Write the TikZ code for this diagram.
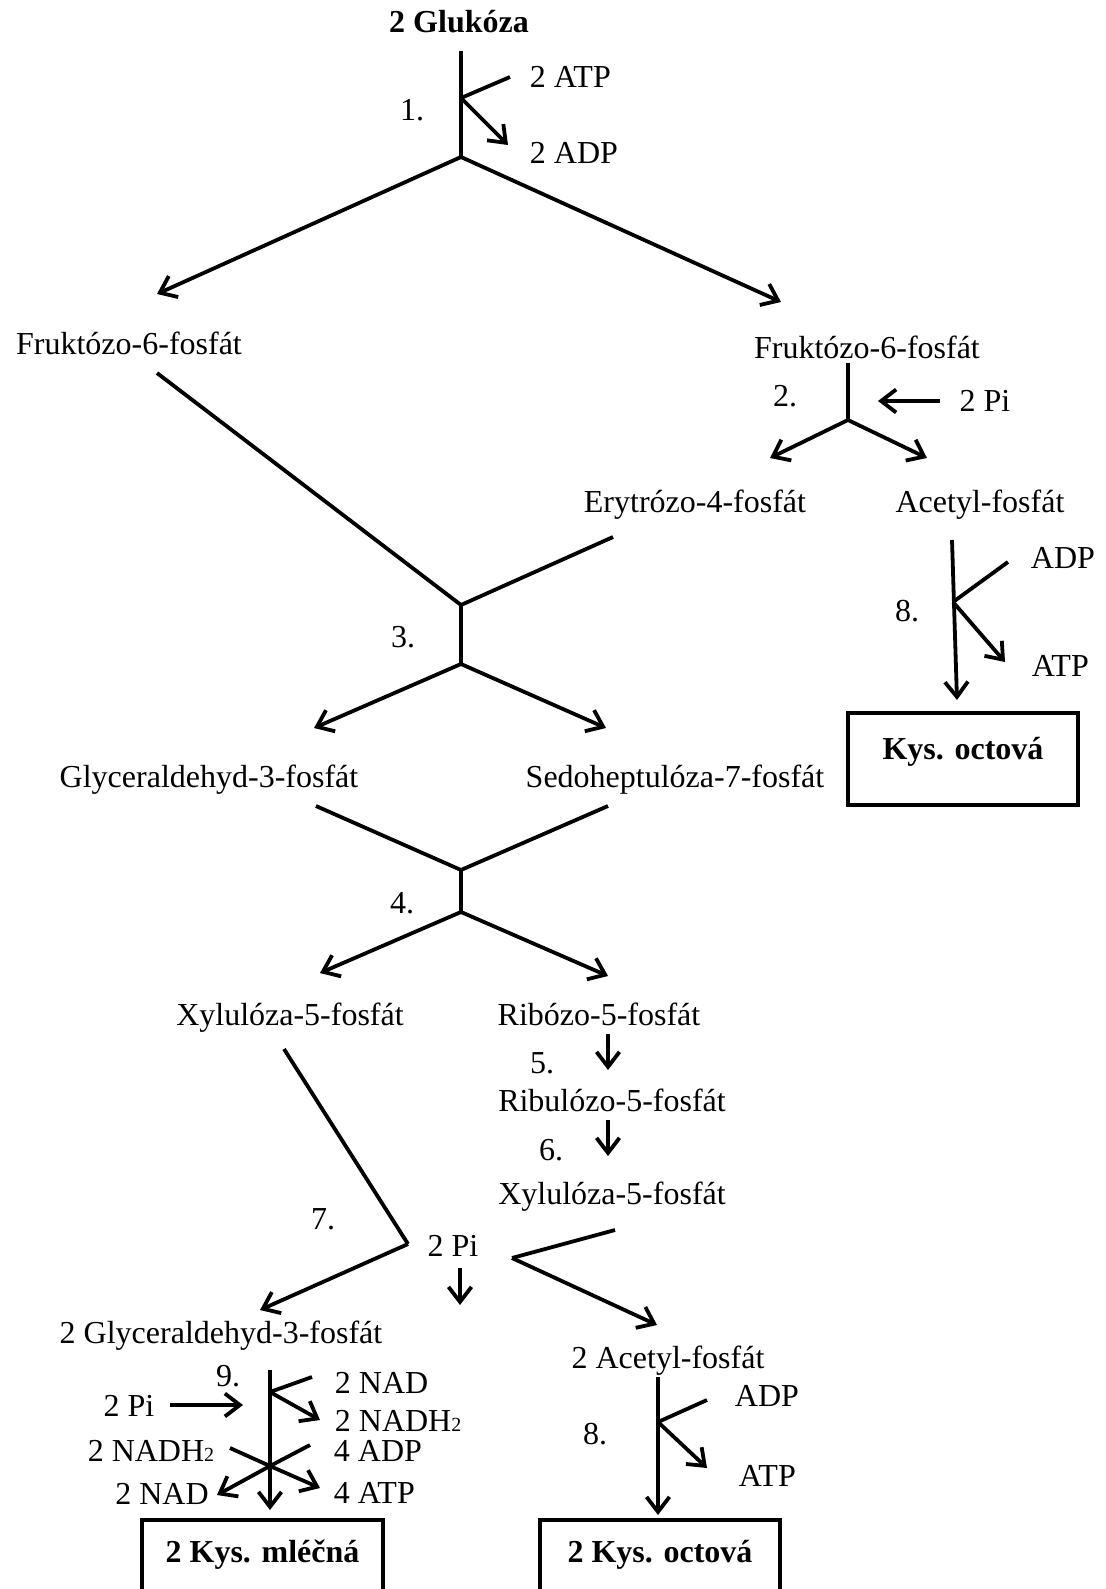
\documentclass[tikz,border=0pt]{standalone}
\usepackage{fontspec}
\setmainfont{Liberation Serif}
\usepackage{tikz}
\usetikzlibrary{arrows.meta}
\tikzset{>={Straight Barb[length=15pt,width=23pt]},
	lbl/.style={inner sep=0pt,font=\fontsize{32}{38}\selectfont,text height=22pt,text depth=0pt},
	blbl/.style={lbl,font=\fontsize{32}{38}\selectfont\bfseries},
	wlbl/.style={lbl,anchor=west},
	endbox/.style={draw,line width=3.8pt,inner sep=0pt,font=\fontsize{32}{38}\selectfont\bfseries,text height=15pt,text depth=15pt}}
\newcommand{\subtwo}{{\fontsize{20}{20}\selectfont 2}}

\begin{document}
\begin{tikzpicture}[x=1pt,y=-1pt,line width=3.8pt]
	\useasboundingbox (0,0) rectangle (1105,1589);
	\node (G) at (459,22) [blbl] {2 Glukóza};
	\node (s1) at (412,110) [lbl] {1.};
	\node (atp1) at (528,77) [wlbl] {2 ATP};
	\node (adp1) at (528,153) [wlbl] {2 ADP};
	\coordinate (g0) at (461,51);
	\coordinate (g1) at (461,98);
	\coordinate (g2) at (461,157);
	\coordinate (a1) at (510,77);
	\coordinate (d1) at (508,145);
	\coordinate (fL) at (157,294);
	\coordinate (fR) at (781,302);
	\draw (g0) -- (g2);
	\draw (a1) -- (g1);
	\draw [->] (g1) -- (d1);
	\draw [->] (g2) -- (fL);
	\draw [->] (g2) -- (fR);
	\node (F1) at (129,343) [lbl] {Fruktózo-6-fosfát};
	\node (F2) at (867,347) [lbl] {Fruktózo-6-fosfát};
	\node (s2) at (785,395) [lbl] {2.};
	\node (pi1) at (985,400) [lbl] {2 Pi};
	\coordinate (f0) at (848,363);
	\coordinate (f1) at (848,420);
	\coordinate (p0) at (940,401);
	\coordinate (p1) at (878,401);
	\coordinate (eE) at (770,458);
	\coordinate (eA) at (927,458);
	\draw (f0) -- (f1);
	\draw [->] (p0) -- (p1);
	\draw [->] (f1) -- (eE);
	\draw [->] (f1) -- (eA);
	\node (E4) at (695,501) [lbl] {Erytrózo-4-fosfát};
	\node (AF) at (980,501) [lbl] {Acetyl-fosfát};
	\node (s8a) at (907,610) [lbl] {8.};
	\node (adp8a) at (1029,557) [wlbl] {ADP};
	\node (atp8a) at (1030,665) [wlbl] {ATP};
	\node (K1) at (963,759) [endbox,minimum width=230pt,minimum height=92pt] {Kys. octová};
	\coordinate (c0) at (952,540);
	\coordinate (c1) at (953,602);
	\coordinate (c2) at (957,700);
	\coordinate (c3) at (1008,562);
	\coordinate (c4) at (1005,662);
	\draw [->] (c0) -- (c2);
	\draw (c3) -- (c1);
	\draw [->] (c1) -- (c4);
	\coordinate (h0) at (157,373);
	\coordinate (h1) at (461,605);
	\coordinate (h2) at (613,537);
	\coordinate (h3) at (461,664);
	\coordinate (hL) at (314,728);
	\coordinate (hR) at (606,728);
	\node (s3) at (403,636) [lbl] {3.};
	\draw (h0) -- (h1) -- (h2);
	\draw (h1) -- (h3);
	\draw [->] (h3) -- (hL);
	\draw [->] (h3) -- (hR);
	\node (GA) at (209,776) [lbl] {Glyceraldehyd-3-fosfát};
	\node (S7) at (675,776) [lbl] {Sedoheptulóza-7-fosfát};
	\node (s4) at (402,902) [lbl] {4.};
	\coordinate (k0) at (316,806);
	\coordinate (k1) at (461,870);
	\coordinate (k2) at (608,806);
	\coordinate (k3) at (461,912);
	\coordinate (kL) at (320,973);
	\coordinate (kR) at (608,976);
	\draw (k0) -- (k1) -- (k2);
	\draw (k1) -- (k3);
	\draw [->] (k3) -- (kL);
	\draw [->] (k3) -- (kR);
	\node (X1) at (290,1014) [lbl] {Xylulóza-5-fosfát};
	\node (R5) at (599,1014) [lbl] {Ribózo-5-fosfát};
	\node (s5) at (542,1062) [lbl] {5.};
	\node (RU) at (612,1100) [lbl] {Ribulózo-5-fosfát};
	\node (s6) at (551,1149) [lbl] {6.};
	\node (X2) at (612,1193) [lbl] {Xylulóza-5-fosfát};
	\coordinate (r0) at (608,1034);
	\coordinate (r1) at (608,1070);
	\coordinate (r2) at (608,1120);
	\coordinate (r3) at (608,1156);
	\draw [->] (r0) -- (r1);
	\draw [->] (r2) -- (r3);
	\node (s7) at (323,1218) [lbl] {7.};
	\node (pi2) at (453,1245) [lbl] {2 Pi};
	\coordinate (m0) at (284,1049);
	\coordinate (m1) at (408,1244);
	\coordinate (mL) at (260,1310);
	\coordinate (m2) at (460,1268);
	\coordinate (m3) at (460,1305);
	\coordinate (n0) at (615,1230);
	\coordinate (n1) at (512,1258);
	\coordinate (nR) at (657,1325);
	\draw (m0) -- (m1);
	\draw [->] (m1) -- (mL);
	\draw [->] (m2) -- (m3);
	\draw (n0) -- (n1);
	\draw [->] (n1) -- (nR);
	\node (GA2) at (221,1332) [lbl] {2 Glyceraldehyd-3-fosfát};
	\node (AF2) at (668,1357) [lbl] {2 Acetyl-fosfát};
	\node (s9) at (228,1375) [lbl] {9.};
	\node (nad1) at (333,1382) [wlbl] {2 NAD};
	\node (nadh1) at (333,1420) [wlbl] {2 NADH\subtwo};
	\node (pi3) at (129,1405) [lbl] {2 Pi};
	\node (nadh2) at (151,1450) [lbl] {2 NADH\subtwo};
	\node (nad2) at (162,1493) [lbl] {2 NAD};
	\node (adp4) at (332,1450) [wlbl] {4 ADP};
	\node (atp4) at (332,1492) [wlbl] {4 ATP};
	\node (K2) at (262.5,1562) [endbox,minimum width=241pt,minimum height=84pt] {2 Kys. mléčná};
	\coordinate (q0) at (270,1370);
	\coordinate (q1) at (270,1392);
	\coordinate (q2) at (270,1466);
	\coordinate (q3) at (270,1510);
	\coordinate (q4) at (312,1377);
	\coordinate (q5) at (320,1420);
	\coordinate (q6) at (170,1405);
	\coordinate (q7) at (243,1405);
	\coordinate (q8) at (230,1448);
	\coordinate (q9) at (217,1495);
	\coordinate (q10) at (310,1445);
	\coordinate (q11) at (320,1488);
	\draw [->] (q0) -- (q3);
	\draw (q4) -- (q1);
	\draw [->] (q1) -- (q5);
	\draw [->] (q6) -- (q7);
	\draw (q8) -- (q2);
	\draw [->] (q2) -- (q9);
	\draw (q10) -- (q2);
	\draw [->] (q2) -- (q11);
	\node (s8b) at (595,1433) [lbl] {8.};
	\node (adp8b) at (733,1395) [wlbl] {ADP};
	\node (atp8b) at (737,1475) [wlbl] {ATP};
	\node (K3) at (660,1562) [endbox,minimum width=240pt,minimum height=84pt] {2 Kys. octová};
	\coordinate (t0) at (658,1377);
	\coordinate (t1) at (658,1422);
	\coordinate (t2) at (658,1515);
	\coordinate (t3) at (707,1400);
	\coordinate (t4) at (707,1468);
	\draw [->] (t0) -- (t2);
	\draw (t3) -- (t1);
	\draw [->] (t1) -- (t4);
\end{tikzpicture}
\end{document}
